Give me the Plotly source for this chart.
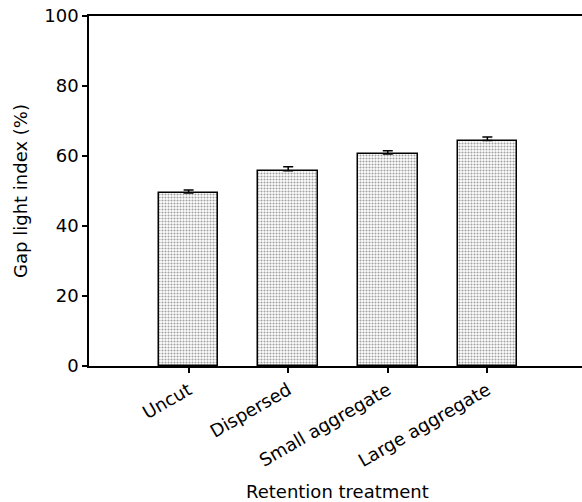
import plotly.graph_objects as go

categories = ["Uncut", "Dispersed", "Small aggregate", "Large aggregate"]
values = [49.4, 55.8, 60.6, 64.4]
errors = [0.9, 1.1, 0.9, 1.0]
y_ticks = [0, 20, 40, 60, 80, 100]
x_title = "Retention treatment"
y_title = "Gap light index (%)"

xpos = list(range(len(categories)))

fig = go.Figure()
fig.add_trace(go.Bar(
    x=xpos, y=values, width=0.6,
    marker=dict(
        color="white",
        line=dict(color="black", width=1.5),
        pattern=dict(shape=".", fgcolor="#444444", bgcolor="white", size=3, solidity=0.4),
    ),
    error_y=dict(type="data", symmetric=False, array=errors, arrayminus=[0]*len(errors),
                 color="black", thickness=1.5, width=5),
    showlegend=False,
))

font_family = "DejaVu Sans, Arial, sans-serif"
fig.update_layout(
    width=582, height=502,
    margin=dict(l=89, r=0, t=16, b=136),
    plot_bgcolor="white", paper_bgcolor="white",
    font=dict(family=font_family, size=18, color="black"),
    bargap=0,
)
fig.update_xaxes(
    range=[-1, 3.95], tickvals=xpos, ticktext=categories, tickangle=-30,
    showline=True, linecolor="black", linewidth=1.5, mirror=True,
    ticks="outside", ticklen=5, tickwidth=1.5, tickcolor="black",
    showgrid=False, zeroline=False, automargin=False,
    tickfont=dict(size=18),
)
fig.update_yaxes(
    range=[0, 100], tickvals=y_ticks,
    showline=True, linecolor="black", linewidth=1.5,
    ticks="outside", ticklen=5, tickwidth=1.5, tickcolor="black",
    showgrid=False, zeroline=False, automargin=False,
    title=dict(text=y_title, font=dict(size=18), standoff=12),
    tickfont=dict(size=18),
)
fig.add_annotation(
    text=x_title, xref="paper", yref="paper", x=0.505, y=-0.358,
    xanchor="center", yanchor="middle", showarrow=False, font=dict(size=18),
)

fig.write_html("out.html", config={"displayModeBar": False},
               post_script="document.body.style.margin='0';document.body.style.padding='0';")
